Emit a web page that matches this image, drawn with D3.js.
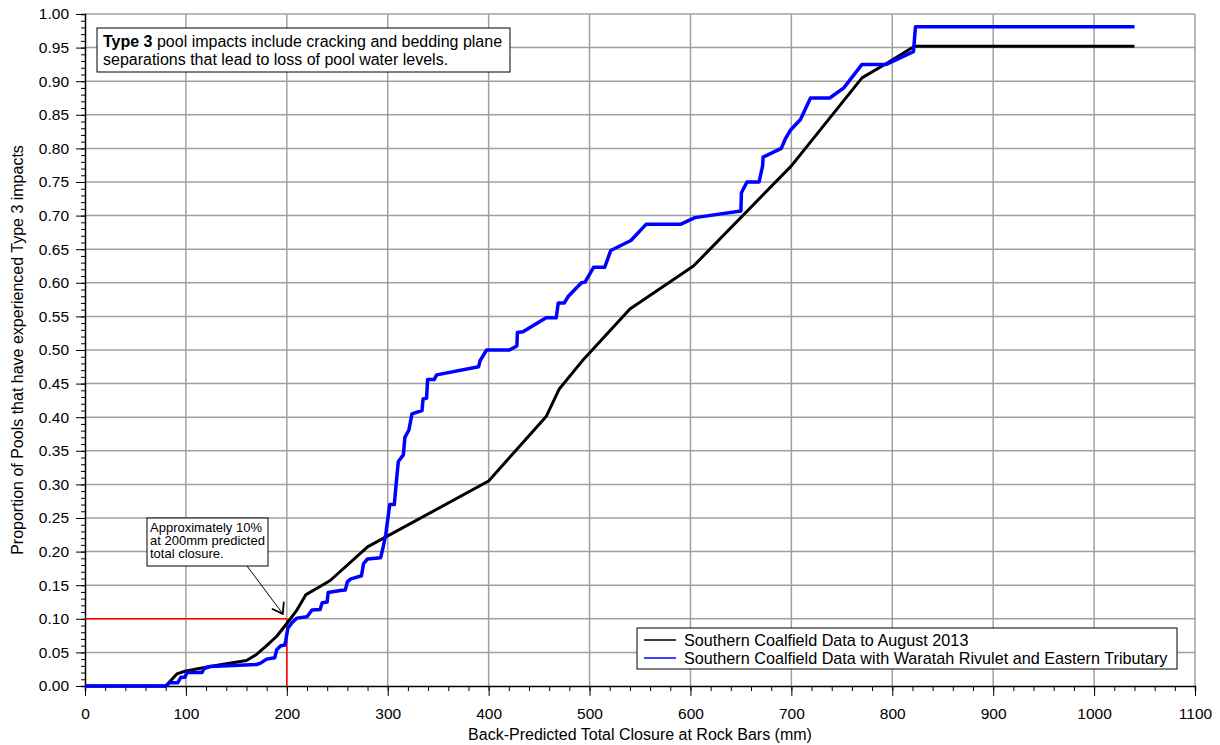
<html><head>
  <script src="https://d3js.org/d3.v7.min.js"></script>
  <style>
    body { margin: 0; background: #fff; }
    text { font-family: Arial, 'Liberation Sans', sans-serif; }
    .grid line { stroke: #a0a0a0; stroke-width: 1.5; }
    .axis path, .axis line { stroke: #000; }
  </style>
</head>
<body>
  <script>
    // Southern Coalfield Data to August 2013
    const closureBlack = [0, 80, 91, 99, 109, 124, 140, 160, 170, 180, 190, 200, 210, 219, 233, 243, 280, 400, 457, 470, 494, 540, 603, 700, 770, 795, 822, 1040]
    const propBlack = [0, 0, 0.018, 0.022, 0.025, 0.029, 0.033, 0.038, 0.047, 0.060, 0.074, 0.093, 0.113, 0.136, 0.148, 0.157, 0.207, 0.305, 0.401, 0.442, 0.486, 0.561, 0.625, 0.774, 0.905, 0.927, 0.952, 0.952]

    // Southern Coalfield Data with Waratah Rivulet and Eastern Tributary
    const closureBlue = [0, 80, 84, 92, 95, 99, 101, 116, 118, 124, 170, 174, 180, 188, 190, 194, 198, 199, 201, 205, 210, 220, 225, 233, 235, 240, 241, 253, 258, 260, 263, 274, 276, 280, 293, 295.5, 298, 302, 306.5, 309, 310.5, 315.5, 317, 321, 324, 334, 335, 338.5, 339.5, 346, 348.5, 390, 391.5, 398, 420.5, 428, 428.5, 434, 457, 467, 469, 475, 479, 492, 495.5, 504, 515, 521, 541, 556, 590, 604.5, 650, 650.5, 656, 668, 671.5, 672, 690, 694, 699, 709, 719, 738, 752, 770, 794, 821, 823, 1040]
    const propBlue = [0, 0, 0.005, 0.005, 0.013, 0.013, 0.020, 0.020, 0.026, 0.029, 0.032, 0.034, 0.040, 0.042, 0.054, 0.060, 0.061, 0.068, 0.086, 0.094, 0.101, 0.103, 0.113, 0.114, 0.124, 0.125, 0.139, 0.142, 0.143, 0.155, 0.159, 0.164, 0.182, 0.189, 0.191, 0.207, 0.225, 0.270, 0.270, 0.311, 0.334, 0.344, 0.370, 0.381, 0.405, 0.410, 0.427, 0.428, 0.456, 0.456, 0.463, 0.475, 0.484, 0.500, 0.500, 0.506, 0.526, 0.527, 0.548, 0.548, 0.570, 0.570, 0.580, 0.600, 0.601, 0.623, 0.623, 0.648, 0.663, 0.687, 0.687, 0.697, 0.707, 0.734, 0.750, 0.750, 0.774, 0.787, 0.800, 0.814, 0.827, 0.843, 0.875, 0.875, 0.890, 0.925, 0.925, 0.944, 0.981, 0.981]

    const xTicks = [0, 100, 200, 300, 400, 500, 600, 700, 800, 900, 1000, 1100]
    const yTicks = [0, 0.05, 0.10, 0.15, 0.20, 0.25, 0.30, 0.35, 0.40, 0.45, 0.50, 0.55, 0.60, 0.65, 0.70, 0.75, 0.80, 0.85, 0.90, 0.95, 1.00]
    const seriesNames = ["Southern Coalfield Data to August 2013", "Southern Coalfield Data with Waratah Rivulet and Eastern Tributary"]

    // marker for "approximately 10% at 200mm"
    const refClosure = 200
    const refProp = 0.10

    const width = 1220
    const height = 745
    const margin = {top: 14, bottom: 59, left: 85, right: 25}

    const svg = d3.select("body")
                  .append("svg")
                  .attr("width", width)
                  .attr("height", height)

    const xScale = d3.scaleLinear().domain([0, 1100]).range([margin.left, width - margin.right])
    const yScale = d3.scaleLinear().domain([0, 1]).range([height - margin.bottom, margin.top])

    // gridlines
    svg.append("g").attr("class", "grid")
       .selectAll("line.v").data(xTicks.slice(1)).join("line")
       .attr("x1", d => xScale(d)).attr("x2", d => xScale(d))
       .attr("y1", yScale(0)).attr("y2", yScale(1))
    svg.append("g").attr("class", "grid")
       .selectAll("line.h").data(yTicks.slice(1)).join("line")
       .attr("x1", xScale(0)).attr("x2", xScale(1100))
       .attr("y1", d => yScale(d)).attr("y2", d => yScale(d))

    // axes
    const minorX = d3.range(0, 1101, 20)
    const minorY = d3.range(0, 101, 1).map(d => d / 100)

    svg.append("g").attr("class", "axis")
       .attr("transform", `translate(0,${yScale(0)})`)
       .call(d3.axisBottom(xScale).tickValues(minorX).tickSize(5).tickFormat(""))
       .call(g => g.select(".domain").attr("stroke-width", 1.5))
    svg.append("g").attr("class", "axis")
       .attr("transform", `translate(0,${yScale(0)})`)
       .call(d3.axisBottom(xScale).tickValues(xTicks).tickSize(10).tickPadding(12).tickFormat(d3.format("d")))
       .call(g => g.select(".domain").remove())
       .call(g => g.selectAll("text").style("font-size", "15.5px").attr("fill", "#000"))

    svg.append("g").attr("class", "axis")
       .attr("transform", `translate(${xScale(0)},0)`)
       .call(d3.axisLeft(yScale).tickValues(minorY).tickSize(4).tickFormat(""))
       .call(g => g.select(".domain").attr("stroke-width", 1.5))
    svg.append("g").attr("class", "axis")
       .attr("transform", `translate(${xScale(0)},0)`)
       .call(d3.axisLeft(yScale).tickValues(yTicks).tickSize(9).tickPadding(7).tickFormat(d3.format(".2f")))
       .call(g => g.select(".domain").remove())
       .call(g => g.selectAll("text").style("font-size", "15.5px").attr("fill", "#000"))

    // axis titles
    svg.append("text")
       .text("Back-Predicted Total Closure at Rock Bars (mm)")
       .attr("x", (xScale(0) + xScale(1100)) / 2 )
       .attr("y", 740)
       .attr("text-anchor", "middle")
       .style("font-size", "16px")
    svg.append("text")
       .text("Proportion of Pools that have experienced Type 3 impacts")
       .attr("transform", `translate(23,${(yScale(0) + yScale(1)) / 2}) rotate(-90)`)
       .attr("text-anchor", "middle")
       .style("font-size", "16px")

    // red reference lines
    svg.append("line")
       .attr("x1", xScale(0)).attr("x2", xScale(refClosure))
       .attr("y1", yScale(refProp)).attr("y2", yScale(refProp))
       .attr("stroke", "red").attr("stroke-width", 1.5)
    svg.append("line")
       .attr("x1", xScale(refClosure)).attr("x2", xScale(refClosure))
       .attr("y1", yScale(0)).attr("y2", yScale(refProp))
       .attr("stroke", "red").attr("stroke-width", 1.5)

    // data lines
    const line = d3.line().x(d => xScale(d[0])).y(d => yScale(d[1]))
    const blackData = d3.zip(closureBlack, propBlack)
    const blueData = d3.zip(closureBlue, propBlue)

    svg.append("path").datum(blackData)
       .attr("d", line).attr("fill", "none")
       .attr("stroke", "#000").attr("stroke-width", 3).attr("stroke-linejoin", "round")
    svg.append("path").datum(blueData)
       .attr("d", line).attr("fill", "none")
       .attr("stroke", "#0000ff").attr("stroke-width", 3.5).attr("stroke-linejoin", "round")

    // Type 3 note
    svg.append("rect")
       .attr("x", 97).attr("y", 28).attr("width", 413).attr("height", 44)
       .attr("fill", "#fff").attr("stroke", "#000").attr("stroke-width", 1)
    let note = svg.append("text").attr("x", 103).attr("y", 47).style("font-size", "16px")
    note.append("tspan").text("Type 3").style("font-weight", "bold")
    note.append("tspan").text(" pool impacts include cracking and bedding plane")
    svg.append("text").attr("x", 103).attr("y", 65).style("font-size", "16px")
       .text("separations that lead to loss of pool water levels.")

    // 10% annotation with arrow
    const tip = [xScale(refClosure) - 4, yScale(refProp) - 5]
    svg.append("line")
       .attr("x1", 247).attr("y1", 566)
       .attr("x2", tip[0]).attr("y2", tip[1])
       .attr("stroke", "#000").attr("stroke-width", 1)
    svg.append("path")
       .attr("d", `M${tip[0] - 11},${tip[1] - 5} L${tip[0]},${tip[1]} L${tip[0] + 1},${tip[1] - 12}`)
       .attr("fill", "none").attr("stroke", "#000").attr("stroke-width", 1.8)
    svg.append("rect")
       .attr("x", 147).attr("y", 518).attr("width", 121).attr("height", 48)
       .attr("fill", "#fff").attr("stroke", "#000").attr("stroke-width", 1)
    const annLines = ["Approximately 10%", "at 200mm predicted", "total closure."]
    svg.append("g").selectAll("text").data(annLines).join("text")
       .attr("x", 150).attr("y", (d, i) => 532 + i * 13)
       .style("font-size", "13px")
       .text(d => d)

    // legend
    svg.append("rect")
       .attr("x", 637).attr("y", 628).attr("width", 540).attr("height", 41)
       .attr("fill", "#fff").attr("stroke", "#000").attr("stroke-width", 1)
    const legColors = ["#000", "#0000ff"]
    const leg = svg.append("g").selectAll("g").data(seriesNames).join("g")
                   .attr("transform", (d, i) => `translate(644,${640 + i * 18})`)
    leg.append("line").attr("x1", 0).attr("x2", 32).attr("y1", 0).attr("y2", 0)
       .attr("stroke", (d, i) => legColors[i]).attr("stroke-width", 1.5)
    leg.append("text").attr("x", 40).attr("y", 5.5).style("font-size", "16.2px").text(d => d)
  </script>
</body></html>
